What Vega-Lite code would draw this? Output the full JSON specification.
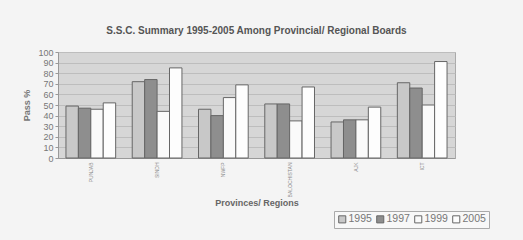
{
  "$schema": "https://vega.github.io/schema/vega-lite/v6.json",
  "autosize": "none",
  "width": 397,
  "height": 106,
  "padding": {"left": 58, "top": 52, "right": 68, "bottom": 82},
  "background": "#f4f4f4",
  "title": {
    "text": "S.S.C. Summary 1995-2005 Among Provincial/ Regional Boards",
    "font": "Liberation Sans",
    "fontSize": 10,
    "fontWeight": "bold",
    "color": "#555555",
    "offset": 12,
    "anchor": "middle"
  },
  "data": {
    "values": [
      {"region": "PUNJAB", "year": "1995", "pass": 49},
      {"region": "PUNJAB", "year": "1997", "pass": 47},
      {"region": "PUNJAB", "year": "1999", "pass": 46},
      {"region": "PUNJAB", "year": "2005", "pass": 52},
      {"region": "SINDH", "year": "1995", "pass": 72},
      {"region": "SINDH", "year": "1997", "pass": 74},
      {"region": "SINDH", "year": "1999", "pass": 44},
      {"region": "SINDH", "year": "2005", "pass": 85},
      {"region": "NWFP", "year": "1995", "pass": 46},
      {"region": "NWFP", "year": "1997", "pass": 40},
      {"region": "NWFP", "year": "1999", "pass": 57},
      {"region": "NWFP", "year": "2005", "pass": 69},
      {"region": "BALOCHISTAN", "year": "1995", "pass": 51},
      {"region": "BALOCHISTAN", "year": "1997", "pass": 51},
      {"region": "BALOCHISTAN", "year": "1999", "pass": 35},
      {"region": "BALOCHISTAN", "year": "2005", "pass": 67},
      {"region": "AJK", "year": "1995", "pass": 34},
      {"region": "AJK", "year": "1997", "pass": 36},
      {"region": "AJK", "year": "1999", "pass": 36},
      {"region": "AJK", "year": "2005", "pass": 48},
      {"region": "ICT", "year": "1995", "pass": 71},
      {"region": "ICT", "year": "1997", "pass": 66},
      {"region": "ICT", "year": "1999", "pass": 50},
      {"region": "ICT", "year": "2005", "pass": 91}
    ]
  },
  "mark": {"type": "bar", "stroke": "#666666", "strokeWidth": 1},
  "encoding": {
    "x": {
      "field": "region",
      "type": "nominal",
      "sort": ["PUNJAB", "SINDH", "NWFP", "BALOCHISTAN", "AJK", "ICT"],
      "scale": {"paddingInner": 0.25, "paddingOuter": 0.12},
      "axis": {
        "title": "Provinces/ Regions",
        "titleFont": "Liberation Sans",
        "titleFontSize": 9,
        "titleFontWeight": "bold",
        "titleColor": "#666666",
        "titlePadding": 2,
        "labelAngle": 270,
        "labelFontSize": 5,
        "labelColor": "#888888",
        "labelFont": "Liberation Sans",
        "ticks": false,
        "domainColor": "#999999",
        "labelPadding": 4
      }
    },
    "xOffset": {"field": "year", "type": "nominal", "scale": {"paddingInner": 0}},
    "y": {
      "field": "pass",
      "type": "quantitative",
      "scale": {"domain": [0, 100]},
      "axis": {
        "title": "Pass %",
        "titleFont": "Liberation Sans",
        "titleFontSize": 9,
        "titleFontWeight": "bold",
        "titleColor": "#777777",
        "titlePadding": 6,
        "values": [0, 10, 20, 30, 40, 50, 60, 70, 80, 90, 100],
        "labelFont": "Liberation Sans",
        "labelFontSize": 9,
        "labelColor": "#777777",
        "gridColor": "#bdbdbd",
        "tickColor": "#999999",
        "domainColor": "#999999",
        "tickSize": 3
      }
    },
    "fill": {
      "field": "year",
      "type": "nominal",
      "scale": {
        "domain": ["1995", "1997", "1999", "2005"],
        "range": ["#c8c8c8", "#8e8e8e", "#fafafa", "#fdfdfd"]
      },
      "legend": {
        "title": null,
        "orient": "none",
        "direction": "horizontal",
        "legendX": 276,
        "legendY": 159,
        "symbolType": "square",
        "symbolSize": 50,
        "symbolStrokeColor": "#666666",
        "symbolStrokeWidth": 1,
        "labelFont": "Liberation Sans",
        "labelFontSize": 10.5,
        "labelColor": "#777777",
        "columnPadding": 2,
        "labelOffset": 1,
        "padding": 3,
        "strokeColor": "#aaaaaa",
        "fillColor": "#f8f8f8"
      }
    }
  },
  "config": {
    "view": {"fill": "#d6d6d6", "stroke": "#aaaaaa"}
  }
}
